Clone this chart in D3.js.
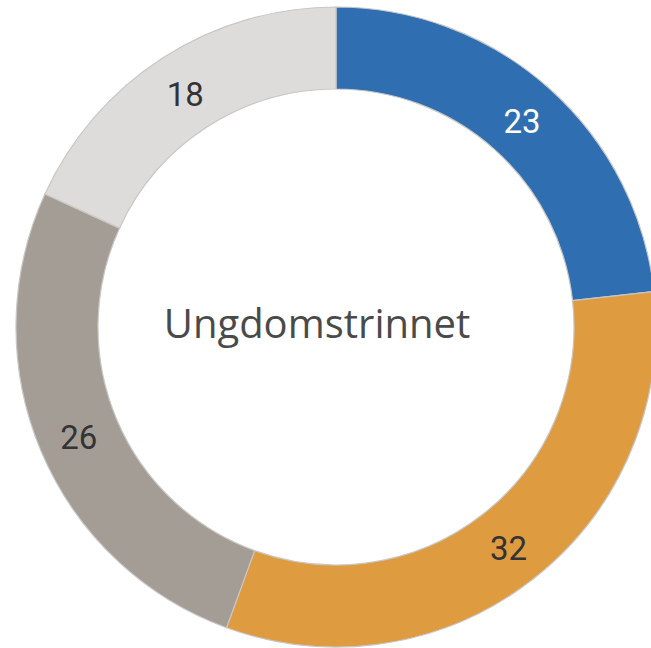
<!DOCTYPE html>
<html>
<head>
<meta charset="utf-8">
<script src="https://cdn.jsdelivr.net/npm/d3@7"></script>
<style>
  html, body { margin: 0; padding: 0; background: #fff; }
  svg { display: block; }
</style>
</head>
<body>
<div id="chart"></div>
<script>
(function () {
    // data
    var categories = ["A", "B", "C", "D"];
    var values = [23, 32, 26, 18];
    var colors = ["#2f6fb1", "#de9b40", "#a49d96", "#dddcdb"];
    var labelColors = ["#ffffff", "#333333", "#333333", "#333333"];
    var centerTitle = "Ungdomstrinnet";

    var width = 651, height = 648;
    var cx = 336, cy = 327;
    var outerR = 320, innerR = 238;

    var svg = d3.select("#chart")
        .append("svg")
        .attr("width", width)
        .attr("height", height)
        .append("g")
        .attr("transform", "translate(" + cx + "," + cy + ")");

    var data = categories.map(function (c, i) {
        return { name: c, value: values[i], color: colors[i], labelColor: labelColors[i] };
    });

    var pie = d3.pie()
        .sort(null)
        .value(function (d) { return d.value; });

    var arc = d3.arc()
        .innerRadius(innerR)
        .outerRadius(outerR);

    var arcs = pie(data);

    // slices
    svg.selectAll("path.slice")
        .data(arcs)
        .enter()
        .append("path")
        .attr("class", "slice")
        .attr("d", arc)
        .attr("fill", function (d) { return d.data.color; })
        .attr("stroke", "#c9c7c5")
        .attr("stroke-width", 1.2);

    // value labels
    svg.selectAll("text.val")
        .data(arcs)
        .enter()
        .append("text")
        .attr("class", "val")
        .attr("x", function (d) { return arc.centroid(d)[0]; })
        .attr("y", function (d) { return arc.centroid(d)[1]; })
        .attr("dy", "0.42em")
        .attr("text-anchor", "middle")
        .style("font-family", "Roboto, 'Noto Sans', sans-serif")
        .style("font-size", "33px")
        .attr("fill", function (d) { return d.data.labelColor; })
        .text(function (d) { return d.data.value; });

    // center title
    svg.append("text")
        .attr("x", -19)
        .attr("y", 11)
        .attr("text-anchor", "middle")
        .style("font-family", "'Open Sans', 'Noto Sans', sans-serif")
        .style("font-size", "40px")
        .attr("fill", "#4a4a4a")
        .text(centerTitle);
})();
</script>
</body>
</html>
